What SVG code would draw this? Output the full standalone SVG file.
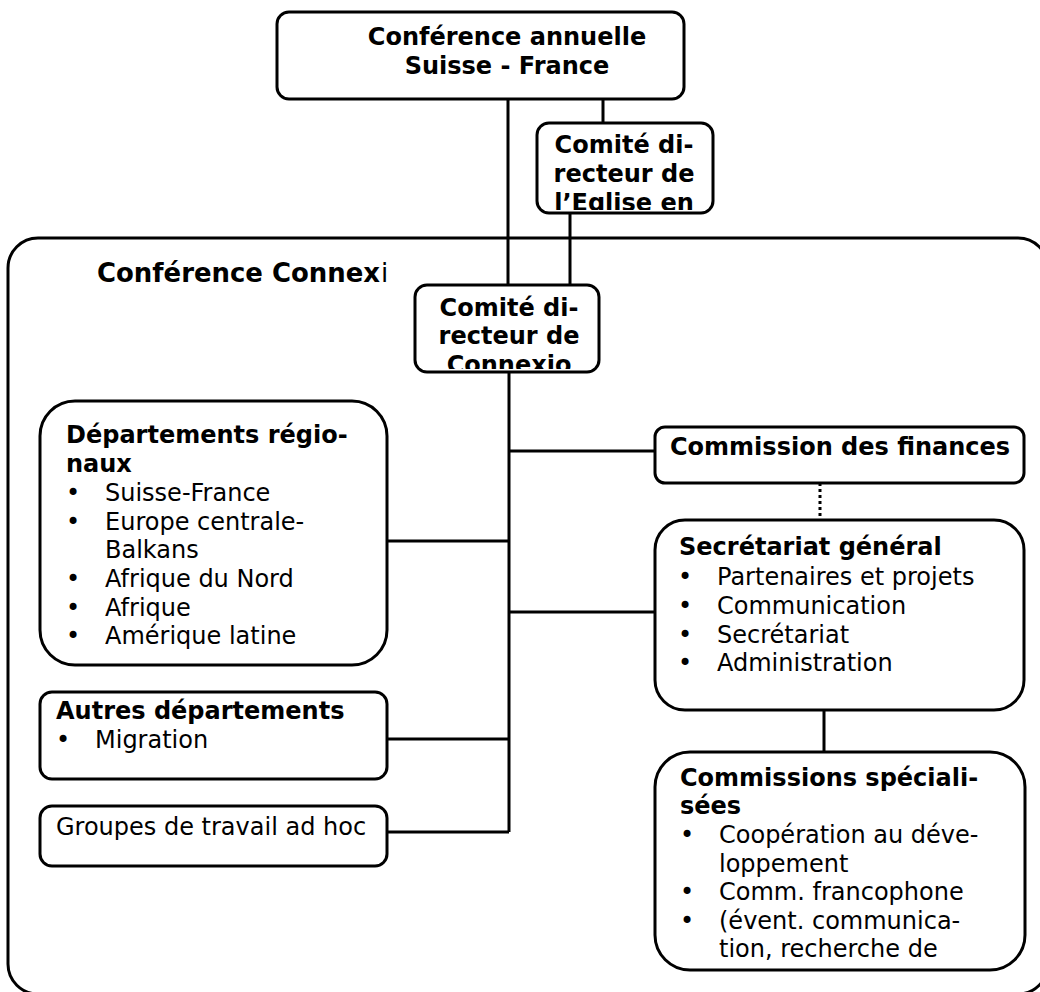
<svg xmlns="http://www.w3.org/2000/svg" width="1040" height="992" viewBox="0 0 1040 992">
<style>
.box{fill:#fff;stroke:#000;stroke-width:3}
.ln{fill:none;stroke:#000;stroke-width:3}
.dot{fill:none;stroke:#000;stroke-width:3;stroke-dasharray:3 3}
text{font-family:"DejaVu Sans",Verdana,sans-serif;font-size:24px;fill:#000}
.b{font-weight:bold}
.c{text-anchor:middle}
.t{font-size:26px}
</style>
<defs>
<clipPath id="clipE"><rect x="538" y="124" width="174" height="86"/></clipPath>
<clipPath id="clipC"><rect x="416" y="286" width="182" height="83"/></clipPath>
</defs>
<rect width="1040" height="992" fill="#fff"/>
<g id="outer">
<rect class="box" x="8" y="238" width="1040" height="756" rx="30"/>
<text class="b t" x="97" y="282" textLength="283" lengthAdjust="spacingAndGlyphs">Conférence Connex</text>
<text class="t" x="381" y="282">i</text>
</g>
<g id="connectors">
<path class="ln" d="M508 99V285M603 99V123M570 213V285"/>
<path class="ln" d="M509 372V832M509 451H655M509 612H655M388 541H509M388 739H509M388 832H509M824 710V752"/>
<path class="dot" d="M820 483V520"/>
</g>
<g id="conf-annuelle">
<rect class="box" x="277" y="12" width="407" height="87" rx="12"/>
<text class="b c" x="507" y="45">Conférence annuelle</text>
<text class="b c" x="507" y="74">Suisse - France</text>
</g>
<g id="comite-eglise">
<rect class="box" x="537" y="123" width="176" height="90" rx="12"/>
<g clip-path="url(#clipE)">
<text class="b c" x="624" y="153">Comité di-</text>
<text class="b c" x="624" y="182">recteur de</text>
<text class="b c" x="624" y="211">l’Eglise en</text>
</g>
</g>
<g id="comite-connexio">
<rect class="box" x="415" y="285" width="184" height="87" rx="12"/>
<g clip-path="url(#clipC)">
<text class="b c" x="509" y="316">Comité di-</text>
<text class="b c" x="509" y="344">recteur de</text>
<text class="b c" x="509" y="373">Connexio</text>
</g>
</g>
<g id="dep-regionaux">
<rect class="box" x="40" y="401" width="347" height="264" rx="35"/>
<text class="b" x="66" y="443">Départements régio-</text>
<text class="b" x="66" y="472">naux</text>
<text x="66" y="501">•</text><text x="105" y="501">Suisse-France</text>
<text x="66" y="530">•</text><text x="105" y="530">Europe centrale-</text>
<text x="105" y="558">Balkans</text>
<text x="66" y="587">•</text><text x="105" y="587">Afrique du Nord</text>
<text x="66" y="616">•</text><text x="105" y="616">Afrique</text>
<text x="66" y="644">•</text><text x="105" y="644">Amérique latine</text>
</g>
<g id="autres-dep">
<rect class="box" x="40" y="692" width="347" height="87" rx="12"/>
<text class="b" x="56" y="719">Autres départements</text>
<text x="56" y="748">•</text><text x="95" y="748">Migration</text>
</g>
<g id="groupes">
<rect class="box" x="40" y="806" width="347" height="60" rx="12"/>
<text x="56" y="835">Groupes de travail ad hoc</text>
</g>
<g id="commission-finances">
<rect class="box" x="655" y="427" width="369" height="56" rx="10"/>
<text class="b" x="670" y="455">Commission des finances</text>
</g>
<g id="secretariat">
<rect class="box" x="655" y="520" width="369" height="190" rx="30"/>
<text class="b" x="679" y="555">Secrétariat général</text>
<text x="678" y="585">•</text><text x="717" y="585">Partenaires et projets</text>
<text x="678" y="614">•</text><text x="717" y="614">Communication</text>
<text x="678" y="643">•</text><text x="717" y="643">Secrétariat</text>
<text x="678" y="671">•</text><text x="717" y="671">Administration</text>
</g>
<g id="commissions-spec">
<rect class="box" x="655" y="752" width="370" height="218" rx="35"/>
<text class="b" x="680" y="786">Commissions spéciali-</text>
<text class="b" x="680" y="814">sées</text>
<text x="680" y="843">•</text><text x="719" y="843">Coopération au déve-</text>
<text x="719" y="872">loppement</text>
<text x="680" y="900">•</text><text x="719" y="900">Comm. francophone</text>
<text x="680" y="929">•</text><text x="719" y="929">(évent. communica-</text>
<text x="719" y="957">tion, recherche de</text>
</g>
</svg>
